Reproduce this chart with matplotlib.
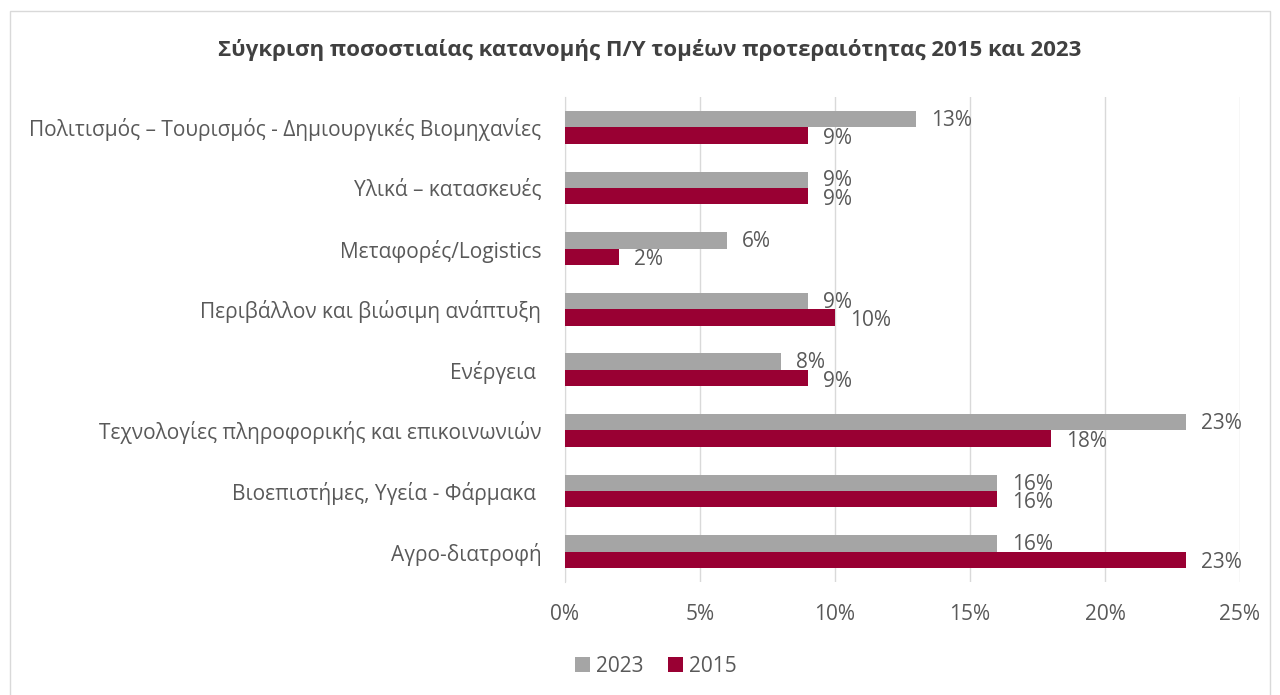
import numpy as np
import matplotlib.pyplot as plt
from matplotlib.patches import Rectangle

plt.rcParams['font.family'] = ['Open Sans', 'DejaVu Sans']

categories = ['Πολιτισμός – Τουρισμός - Δημιουργικές Βιομηχανίες',
              'Υλικά – κατασκευές',
              'Μεταφορές/Logistics',
              'Περιβάλλον και βιώσιμη ανάπτυξη',
              'Ενέργεια ',
              'Τεχνολογίες πληροφορικής και επικοινωνιών',
              'Βιοεπιστήμες, Υγεία - Φάρμακα ',
              'Αγρο-διατροφή']
v2023 = [13, 9, 6, 9, 8, 23, 16, 16]
v2015 = [9, 9, 2, 10, 9, 18, 16, 23]
xticks = [0, 5, 10, 15, 20, 25]

gray = '#A5A5A5'
red = '#990033'
txt = '#595959'

fig = plt.figure(figsize=(12.8, 6.95), dpi=100)
ax = fig.add_axes([0.4414, 0.1626, 0.96875 - 0.4414, 0.8604 - 0.1626])

# light frame around the whole chart
fig.patches.append(Rectangle((10 / 1280, -0.01), 1 - 20 / 1280, 1 - 11 / 695 + 0.01,
                             transform=fig.transFigure, fill=False,
                             edgecolor='#d9d9d9', linewidth=1))

y = np.arange(len(categories))
h = 0.27
ax.barh(y - h / 2, v2023, height=h, color=gray, label='2023', zorder=3)
ax.barh(y + h / 2, v2015, height=h, color=red, label='2015', zorder=3)

for yi, a, b in zip(y, v2023, v2015):
    ax.text(a + 0.55, yi - h / 2 + 0.02, f'{a}%', va='center', ha='left', fontsize=15, color=txt)
    ax.text(b + 0.55, yi + h / 2 + 0.05, f'{b}%', va='center', ha='left', fontsize=15, color=txt)

ax.set_ylim(len(categories) - 0.5, -0.5)
ax.set_xlim(0, 25)
ax.set_xticks(xticks)
ax.set_xticklabels([f'{t}%' for t in xticks], fontsize=15, color=txt)
ax.set_yticks(y)
ax.set_yticklabels(categories, fontsize=15, color=txt)
ax.tick_params(length=0)
ax.tick_params(axis='x', pad=16)
ax.tick_params(axis='y', pad=17)
ax.grid(axis='x', color='#d9d9d9', linewidth=1, zorder=0)
for s in ['top', 'right', 'bottom']:
    ax.spines[s].set_visible(False)
ax.spines['left'].set_color('#d9d9d9')

fig.text(650 / 1280, 1 - 50 / 695, 'Σύγκριση ποσοστιαίας κατανομής Π/Υ τομέων προτεραιότητας 2015 και 2023',
         ha='center', va='center', fontsize=16, fontweight='bold', color='#404040')

fig.legend(loc='center', bbox_to_anchor=(656 / 1280, 1 - 666 / 695), ncol=2, frameon=False,
           fontsize=15, handlelength=0.7, handleheight=0.7, handletextpad=0.3,
           columnspacing=1.2, labelcolor=txt)

fig.savefig('out.png', dpi=100)
